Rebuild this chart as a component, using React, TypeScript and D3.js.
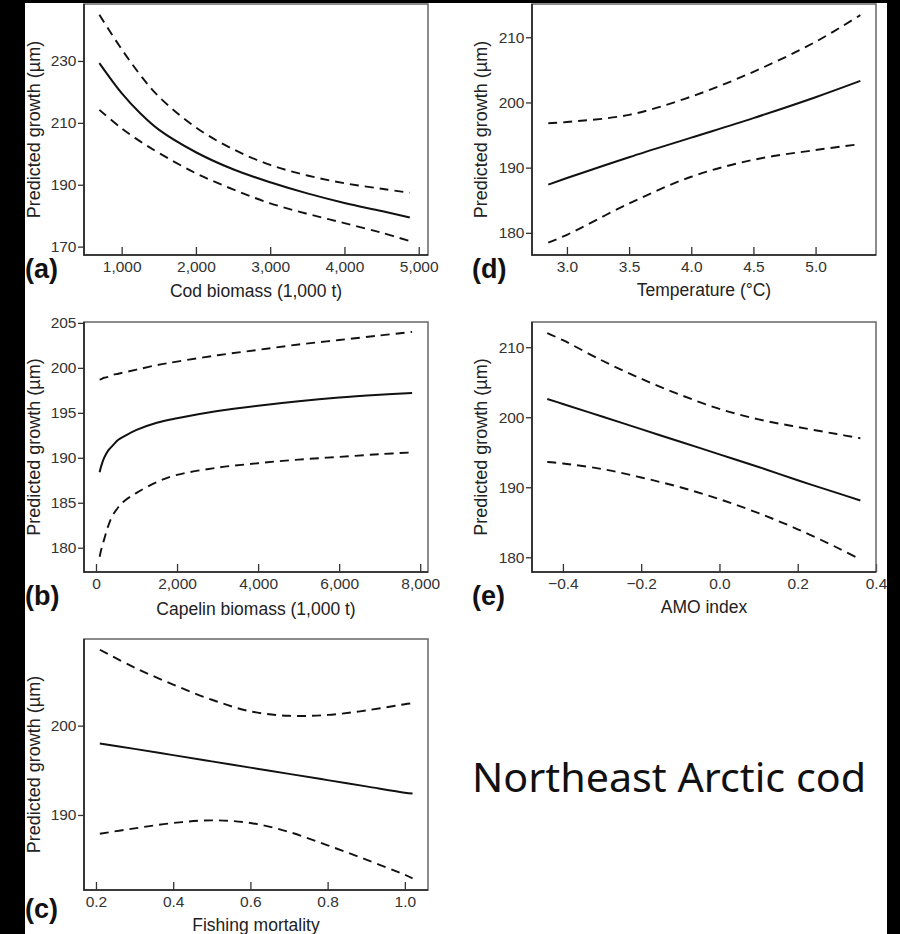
import { useEffect, useRef } from 'react'
import * as d3 from 'd3'

const W = 900
const H = 934
const FONT = '"Liberation Sans", Arial, sans-serif'

// (a) cod biomass
const codX = [700, 1000, 1250, 1500, 2000, 2500, 3000, 3500, 4000, 4500, 4880]
const codFit = [229.3, 219.6, 213.1, 207.8, 200.5, 195.0, 190.8, 187.2, 184.1, 181.5, 179.4]
const codUpper = [244.9, 233.8, 225.5, 218.5, 208.5, 201.5, 196.4, 193.0, 190.5, 188.7, 187.4]
const codLower = [214.2, 208.2, 204.0, 200.3, 193.7, 188.5, 184.0, 180.6, 177.6, 174.5, 171.8]

// (b) capelin biomass
const capX = [90, 130, 200, 300, 400, 550, 700, 1000, 1500, 2000, 3000, 4000, 5000, 6000, 7000, 7800]
const capFit = [188.4, 189.1, 190.0, 190.8, 191.3, 192.0, 192.4, 193.1, 193.9, 194.4, 195.2, 195.8, 196.3, 196.7, 197.0, 197.2]
const capUpper = [198.7, 198.75, 198.9, 199.0, 199.2, 199.35, 199.5, 199.8, 200.3, 200.7, 201.4, 202.0, 202.6, 203.1, 203.6, 204.0]
const capLower = [179.0, 179.8, 180.9, 182.4, 183.5, 184.5, 185.2, 186.1, 187.3, 188.1, 188.9, 189.4, 189.8, 190.1, 190.4, 190.6]

// (c) fishing mortality
const fishX = [0.21, 0.3, 0.4, 0.5, 0.6, 0.7, 0.8, 0.9, 1.0, 1.02]
const fishFit = [198.0, 197.4, 196.7, 196.0, 195.3, 194.6, 193.9, 193.2, 192.5, 192.4]
const fishUpper = [208.5, 206.5, 204.6, 202.9, 201.6, 201.1, 201.2, 201.7, 202.4, 202.5]
const fishLower = [187.9, 188.5, 189.1, 189.4, 189.1, 188.1, 186.6, 185.0, 183.3, 182.9]

// (d) temperature
const tempX = [2.85, 3.0, 3.5, 4.0, 4.5, 5.0, 5.36]
const tempFit = [187.4, 188.4, 191.6, 194.6, 197.6, 200.8, 203.3]
const tempUpper = [196.8, 197.0, 198.1, 200.9, 204.7, 209.3, 213.4]
const tempLower = [178.5, 179.7, 184.5, 188.6, 191.2, 192.7, 193.6]

// (e) AMO index
const amoX = [-0.44, -0.4, -0.3, -0.2, -0.1, 0, 0.1, 0.2, 0.3, 0.36]
const amoFit = [202.6, 201.9, 200.1, 198.3, 196.5, 194.7, 192.9, 191.0, 189.2, 188.1]
const amoUpper = [212.0, 211.0, 208.1, 205.5, 203.2, 201.2, 199.7, 198.6, 197.6, 197.0]
const amoLower = [193.6, 193.4, 192.6, 191.4, 190.0, 188.3, 186.3, 184.0, 181.4, 179.7]

const panels = [
  {
    tag: '(a)', box: [84, 4, 428, 255], xDomain: [493, 5125], yDomain: [167.3, 248.4],
    xTicks: [1000, 2000, 3000, 4000, 5000], yTicks: [170, 190, 210, 230], fmt: d3.format(','),
    xTitle: 'Cod biomass (1,000 t)', xs: codX, fit: codFit, upper: codUpper, lower: codLower,
    tagPos: [25, 278], yTitleX: 39.5, xTitleY: 297,
  },
  {
    tag: '(b)', box: [84, 322, 428, 572], xDomain: [-296, 8192], yDomain: [177.3, 205.1],
    xTicks: [0, 2000, 4000, 6000, 8000], yTicks: [180, 185, 190, 195, 200, 205], fmt: d3.format(','),
    xTitle: 'Capelin biomass (1,000 t)', xs: capX, fit: capFit, upper: capUpper, lower: capLower,
    tagPos: [25, 605], yTitleX: 39.5, xTitleY: 615,
  },
  {
    tag: '(c)', box: [84, 639, 428, 890], xDomain: [0.169, 1.06], yDomain: [181.6, 209.7],
    xTicks: [0.2, 0.4, 0.6, 0.8, 1.0], yTicks: [190, 200], fmt: d3.format('.1f'),
    xTitle: 'Fishing mortality', xs: fishX, fit: fishFit, upper: fishUpper, lower: fishLower,
    tagPos: [25, 918], yTitleX: 39.5, xTitleY: 931,
  },
  {
    tag: '(d)', box: [532, 4, 876, 255], xDomain: [2.719, 5.486], yDomain: [176.6, 215.1],
    xTicks: [3.0, 3.5, 4.0, 4.5, 5.0], yTicks: [180, 190, 200, 210], fmt: d3.format('.1f'),
    xTitle: 'Temperature (°C)', xs: tempX, fit: tempFit, upper: tempUpper, lower: tempLower,
    tagPos: [472, 278], yTitleX: 487, xTitleY: 296,
  },
  {
    tag: '(e)', box: [532, 322, 876, 572], xDomain: [-0.479, 0.4], yDomain: [177.9, 213.6],
    xTicks: [-0.4, -0.2, 0.0, 0.2, 0.4], yTicks: [180, 190, 200, 210], fmt: d3.format('.1f'),
    xTitle: 'AMO index', xs: amoX, fit: amoFit, upper: amoUpper, lower: amoLower,
    tagPos: [472, 605], yTitleX: 487, xTitleY: 613,
  },
]

export default function App() {
  const svgRef = useRef(null)

  useEffect(() => {
    const svg = d3.select(svgRef.current)
    svg.selectAll('*').remove()

    svg.append('rect').attr('width', W).attr('height', H).attr('fill', '#fff')

    panels.forEach((p) => {
      const [x0, y0, x1, y1] = p.box
      const x = d3.scaleLinear().domain(p.xDomain).range([x0, x1])
      const y = d3.scaleLinear().domain(p.yDomain).range([y1, y0])
      const g = svg.append('g').attr('font-family', FONT)

      // x axis, ticks point inward
      g.append('g')
        .attr('transform', `translate(0,${y1})`)
        .call(d3.axisBottom(x).tickValues(p.xTicks).tickFormat(p.fmt).tickSize(-8).tickPadding(6))
        .call((a) => a.select('.domain').remove())
        .call((a) => a.selectAll('.tick line').attr('stroke', '#333').attr('stroke-width', 1.3))
        .call((a) => a.selectAll('.tick text').attr('font-size', 15.5).attr('font-family', FONT).attr('fill', '#333'))

      // y axis, ticks point outward
      g.append('g')
        .attr('transform', `translate(${x0},0)`)
        .call(d3.axisLeft(y).tickValues(p.yTicks).tickFormat(d3.format('d')).tickSize(6).tickPadding(1.5))
        .call((a) => a.select('.domain').remove())
        .call((a) => a.selectAll('.tick line').attr('stroke', '#333').attr('stroke-width', 1.3))
        .call((a) => a.selectAll('.tick text').attr('font-size', 15.5).attr('font-family', FONT).attr('fill', '#333'))

      // frame
      g.append('rect')
        .attr('x', x0).attr('y', y0)
        .attr('width', x1 - x0).attr('height', y1 - y0)
        .attr('fill', 'none').attr('stroke', '#666').attr('stroke-width', 1.5)
      g.append('path')
        .attr('d', `M${x0},${y0}V${y1}H${x1}`)
        .attr('fill', 'none').attr('stroke', '#222').attr('stroke-width', 1.6)

      const line = (vals) =>
        d3.line().x((d, i) => x(p.xs[i])).y((d) => y(d)).curve(d3.curveCatmullRom.alpha(0.5))(vals)

      g.append('path').attr('d', line(p.upper))
        .attr('fill', 'none').attr('stroke', '#111').attr('stroke-width', 1.9).attr('stroke-dasharray', '9,6')
      g.append('path').attr('d', line(p.lower))
        .attr('fill', 'none').attr('stroke', '#111').attr('stroke-width', 1.9).attr('stroke-dasharray', '9,6')
      g.append('path').attr('d', line(p.fit))
        .attr('fill', 'none').attr('stroke', '#111').attr('stroke-width', 2)

      // axis titles
      g.append('text')
        .attr('x', (x0 + x1) / 2).attr('y', p.xTitleY)
        .attr('text-anchor', 'middle').attr('font-size', 17.5).attr('fill', '#222')
        .text(p.xTitle)
      g.append('text')
        .attr('transform', `translate(${p.yTitleX},${(y0 + y1) / 2}) rotate(-90)`)
        .attr('text-anchor', 'middle').attr('font-size', 18).attr('fill', '#222')
        .text('Predicted growth (µm)')

      // panel tag
      g.append('text')
        .attr('x', p.tagPos[0]).attr('y', p.tagPos[1])
        .attr('font-size', 27).attr('font-weight', 'bold').attr('fill', '#111')
        .text(p.tag)
    })

    svg.append('text')
      .attr('x', 472).attr('y', 792)
      .attr('font-family', '"Noto Sans", "Open Sans", sans-serif')
      .attr('font-size', 40)
      .attr('textLength', 394)
      .attr('lengthAdjust', 'spacingAndGlyphs')
      .attr('fill', '#111')
      .text('Northeast Arctic cod')

    // black borders of the original slide
    svg.append('rect').attr('x', 0).attr('y', 0).attr('width', 25).attr('height', H).attr('fill', '#000')
    svg.append('rect').attr('x', 887).attr('y', 0).attr('width', 13).attr('height', H).attr('fill', '#000')
    svg.append('rect').attr('x', 0).attr('y', 0).attr('width', W).attr('height', 3).attr('fill', '#000')
  }, [])

  return (
    <svg
      ref={svgRef}
      width={W}
      height={H}
      style={{ position: 'absolute', left: 0, top: 0, display: 'block' }}
    />
  )
}
